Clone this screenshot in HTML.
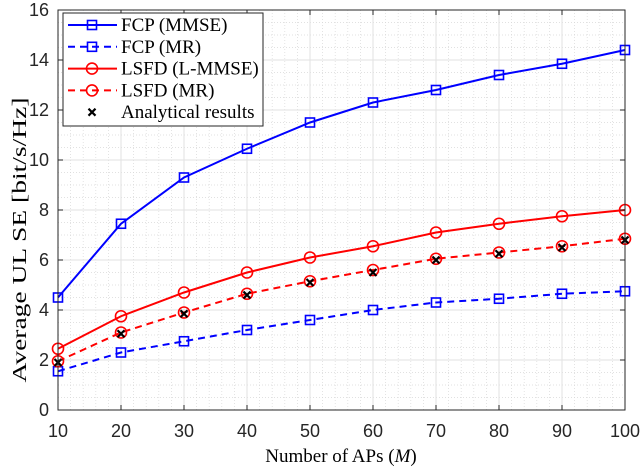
<!DOCTYPE html>
<html><head><meta charset="utf-8"><style>
body{margin:0;background:#fff}
svg{display:block}
</style></head><body>
<svg id="chart" width="640" height="469" viewBox="0 0 640 469" xmlns="http://www.w3.org/2000/svg">
<g id="grid"></g>
<g id="series"></g>
<g id="axes"></g>
<text transform="translate(26,240) rotate(-90)" text-anchor="middle" font-family="Liberation Serif, serif" font-size="20" textLength="285" lengthAdjust="spacingAndGlyphs">Average UL SE [bit/s/Hz]</text>
<text x="341" y="462" text-anchor="middle" font-family="Liberation Serif, serif" font-size="19">Number of APs (<tspan font-style="italic">M</tspan>)</text>
<g id="legend"></g>
</svg>
<script>
const xs = [10,20,30,40,50,60,70,80,90,100];
const fcpMmse = [4.5,7.45,9.3,10.45,11.5,12.3,12.8,13.4,13.85,14.4];
const fcpMr = [1.55,2.3,2.75,3.2,3.6,4.0,4.3,4.45,4.65,4.75];
const lsfdLmmse = [2.45,3.75,4.7,5.5,6.1,6.55,7.1,7.45,7.75,8.0];
const lsfdMr = [1.95,3.1,3.9,4.65,5.15,5.6,6.05,6.3,6.55,6.85];
const analytical = [1.9,3.05,3.85,4.6,5.1,5.5,6.0,6.25,6.5,6.8];
const xTicks = [10,20,30,40,50,60,70,80,90,100];
const yTicks = [0,2,4,6,8,10,12,14,16];
const legendLabels = ["FCP (MMSE)","FCP (MR)","LSFD (L-MMSE)","LSFD (MR)","Analytical results"];

const L=58,R=625,T=10,B=410;
const X=v=>L+(v-10)/90*(R-L);
const Y=v=>B-v/16*(B-T);
const NS="http://www.w3.org/2000/svg";
function mk(tag,parent,attrs){const e=document.createElementNS(NS,tag);for(const k in attrs)e.setAttribute(k,attrs[k]);parent.appendChild(e);return e;}
const grid=document.getElementById('grid'),axes=document.getElementById('axes'),ser=document.getElementById('series'),leg=document.getElementById('legend');
for(let v=10;v<=100;v+=2){const e=mk('line',grid,{x1:X(v),x2:X(v),y1:T,y2:B,stroke:'#d8d8d8','stroke-width':0.7,'stroke-dasharray':'1,2'});}
for(let v=0;v<=16;v+=0.5){const e=mk('line',grid,{x1:L,x2:R,y1:Y(v),y2:Y(v),stroke:'#d8d8d8','stroke-width':0.7,'stroke-dasharray':'1,2'});}
xTicks.forEach(v=>{const e=mk('line',grid,{x1:X(v),x2:X(v),y1:T,y2:B,stroke:'#e2e2e2','stroke-width':1});
const t=mk('text',axes,{x:X(v),y:B+27,'text-anchor':'middle','font-family':'Liberation Sans, sans-serif','font-size':18,fill:'#262626'});t.textContent=v;
mk('line',axes,{x1:X(v),x2:X(v),y1:B,y2:B-5,stroke:'#262626'});mk('line',axes,{x1:X(v),x2:X(v),y1:T,y2:T+5,stroke:'#262626'});});
yTicks.forEach(v=>{const e=mk('line',grid,{x1:L,x2:R,y1:Y(v),y2:Y(v),stroke:'#e2e2e2','stroke-width':1});
const t=mk('text',axes,{x:L-9,y:Y(v)+6,'text-anchor':'end','font-family':'Liberation Sans, sans-serif','font-size':18,fill:'#262626'});t.textContent=v;
mk('line',axes,{x1:L,x2:L+5,y1:Y(v),y2:Y(v),stroke:'#262626'});mk('line',axes,{x1:R,x2:R-5,y1:Y(v),y2:Y(v),stroke:'#262626'});});
const fr=mk('rect',axes,{x:L,y:T,width:R-L,height:B-T,fill:'none',stroke:'#262626','stroke-width':1});


function sq(p,x,y,c){mk('rect',p,{x:x-4.5,y:y-4.5,width:9,height:9,fill:'none',stroke:c,'stroke-width':1.6});}
function ci(p,x,y,c){mk('circle',p,{cx:x,cy:y,r:5.5,fill:'none',stroke:c,'stroke-width':1.6});}
function cr(p,x,y){mk('path',p,{d:`M${x-3.5},${y-3.5}L${x+3.5},${y+3.5}M${x-3.5},${y+3.5}L${x+3.5},${y-3.5}`,stroke:'#000','stroke-width':2.2});}
function line(arr,c,dash,mark,name){const g=mk('g',ser,{});
mk('polyline',g,{points:arr.map((v,i)=>X(xs[i])+','+Y(v)).join(' '),fill:'none',stroke:c,'stroke-width':2,'stroke-dasharray':dash||''});
arr.forEach((v,i)=>mark(g,X(xs[i]),Y(v),c));}
line(fcpMmse,'#0000ff','',sq,'fcp-mmse-series');
line(fcpMr,'#0000ff','7,5',sq,'fcp-mr-series');
line(lsfdLmmse,'#ff0000','',ci,'lsfd-lmmse-series');
line(lsfdMr,'#ff0000','7,5',ci,'lsfd-mr-series');
const ag=mk('g',ser,{});
analytical.forEach((v,i)=>cr(ag,X(xs[i]),Y(v)));

mk('rect',leg,{x:63,y:13,width:200,height:113,fill:'#fff',stroke:'#262626','stroke-width':1});
const cols=['#0000ff','#0000ff','#ff0000','#ff0000','#000'];const dashes=['','7,5','','7,5',''];const marks=[sq,sq,ci,ci,null];
legendLabels.forEach((lab,i)=>{const y=25+i*21.8;const g=mk('g',leg,{});
if(i<4)mk('line',g,{x1:68,x2:117,y1:y,y2:y,stroke:cols[i],'stroke-width':2,'stroke-dasharray':dashes[i]});
if(marks[i])marks[i](g,92,y,cols[i]);else cr(g,92,y);
const t=mk('text',g,{x:121,y:y+6,'font-family':'Liberation Serif, serif','font-size':19,fill:'#000'});t.textContent=lab;});
</script>
</body></html>
